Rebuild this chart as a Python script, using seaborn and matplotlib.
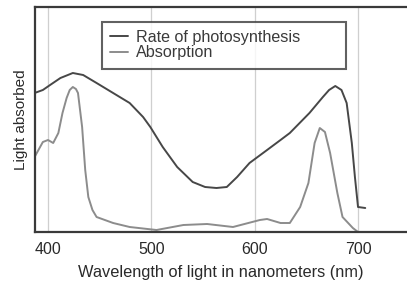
import matplotlib
matplotlib.use("Agg")
import matplotlib.pyplot as plt
import pandas as pd
import seaborn as sns

# wavelength (nm) and relative values
rate_nm = [387, 395, 402, 412, 424, 434, 447, 463, 479, 492, 499, 511, 525, 540,
           552, 563, 573, 583, 595, 612, 625, 634, 653, 666, 672, 678, 684, 689,
           694, 697, 700, 707]
rate = [139, 142, 147, 154, 159, 157, 149, 139, 129, 115, 105, 85, 65, 50,
        45, 44, 45, 55, 69, 82, 92, 99, 119, 135, 142, 146, 142, 129,
        89, 55, 25, 24]

absorb_nm = [387, 395, 400, 405, 410, 414, 418, 421, 424, 427, 429, 433, 436,
             439, 443, 447, 463, 479, 505, 531, 554, 579, 605, 612, 625, 634,
             644, 652, 658, 663, 668, 673, 680, 685, 695, 700]
absorb = [75, 90, 92, 89, 99, 119, 134, 142, 145, 143, 139, 105, 62,
          35, 22, 15, 9, 5, 2, 7, 8, 5, 12, 13, 9, 9,
          25, 49, 89, 104, 100, 79, 39, 15, 4, 0]

labels = ["Rate of photosynthesis", "Absorption"]
colors = ["#474747", "#8c8c8c"]
xticks = [400, 500, 600, 700]

df = pd.concat([
    pd.DataFrame({"nm": rate_nm, "value": rate, "series": labels[0]}),
    pd.DataFrame({"nm": absorb_nm, "value": absorb, "series": labels[1]}),
])

sns.set_style("white")
plt.rcParams["font.family"] = ["Liberation Sans", "DejaVu Sans"]

fig = plt.figure(figsize=(4.07, 2.89), dpi=100)
ax = fig.add_axes([35 / 407, 57 / 289, 372 / 407, 225 / 289])

for x in xticks:
    ax.axvline(x, color="#cfcfcf", lw=0.9, zorder=0)

sns.lineplot(data=df, x="nm", y="value", hue="series",
             palette=dict(zip(labels, colors)), linewidth=1.4, ax=ax)

ax.set_xlim(387.4, 747.4)
ax.set_ylim(0, 225)
ax.set_xticks(xticks)
ax.set_yticks([])
ax.tick_params(axis="x", length=0, pad=7, labelsize=11.5, labelcolor="#2a2a2a")
ax.set_xlabel("Wavelength of light in nanometers (nm)", fontsize=11.8,
              color="#2a2a2a", labelpad=6)
ax.set_ylabel("Light absorbed", fontsize=11, color="#2a2a2a", labelpad=5)

for side in ["left", "bottom", "top"]:
    ax.spines[side].set_color("#3a3a3a")
    ax.spines[side].set_linewidth(1.6)
ax.spines["right"].set_visible(False)

leg = ax.legend(loc="upper left", bbox_to_anchor=(0.180, 0.935, 0.655, 0.0),
                mode="expand", fontsize=11.6, frameon=True, fancybox=False,
                handlelength=1.1, handletextpad=0.5, borderpad=0.5,
                labelspacing=0.05, borderaxespad=0)
leg.get_frame().set_edgecolor("#3a3a3a")
leg.get_frame().set_linewidth(1.5)
for t in leg.get_texts():
    t.set_color("#3a3a3a")

fig.savefig("out.png", dpi=100)
